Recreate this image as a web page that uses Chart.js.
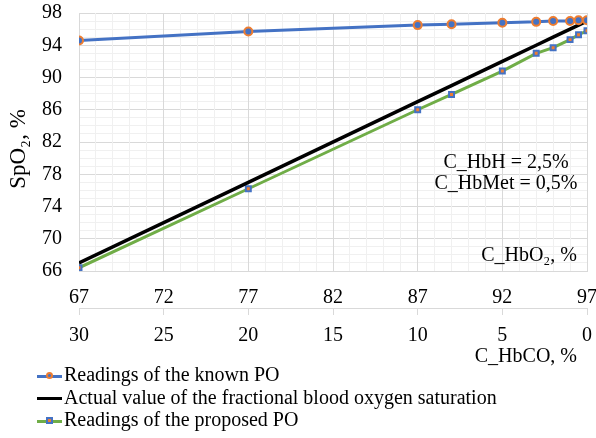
<!DOCTYPE html>
<html>
<head>
<meta charset="utf-8">
<script src="https://cdn.jsdelivr.net/npm/chart.js@4"></script>
<style>
  body { margin: 0; background: #fff; }
  #wrap { position: relative; width: 596px; height: 370px; }
  #legend { position: absolute; left: 37px; top: 363px; font: 20px "Liberation Serif", serif; color: #000; }
  #legend div { height: 22.5px; line-height: 22.5px; white-space: nowrap; }
  .sw { display: inline-block; position: relative; width: 25px; height: 3px; vertical-align: middle; margin-right: 2px; }
  .sw i { position: absolute; border-style: solid; box-sizing: content-box; }
</style>
</head>
<body>
<div id="wrap"><canvas id="chart"></canvas></div>
<div id="legend"></div>
<script>
// C_HbO2, % (top axis); C_HbCO = 97 - C_HbO2 (bottom axis)
const hbo2 = [67, 77, 87, 89, 92, 94, 95, 96, 96.5, 97];
const knownPO = [94.6, 95.7, 96.5, 96.6, 96.8, 96.9, 97.0, 97.0, 97.1, 97.1];
const actual = [67, 77, 87, 89, 92, 94, 95, 96, 96.5, 97];
const proposed = [66.4, 76.2, 86.0, 87.9, 90.8, 93.0, 93.7, 94.7, 95.3, 95.8];
const seriesNames = ['Readings of the known PO', 'Actual value of the fractional blood oxygen saturation', 'Readings of the proposed PO'];

const FONT = '"Liberation Serif", "Times New Roman", serif';
const toXY = vals => vals.map((v, i) => ({ x: hbo2[i], y: v }));

const major = '#d9d9d9', minor = '#f0f0f0';

// text labels inside the plot + axis titles
const notes = {
  id: 'notes',
  afterDraw(chart) {
    const { ctx, chartArea: a } = chart;
    ctx.save();
    ctx.fillStyle = '#000';
    ctx.font = '20px ' + FONT;
    ctx.textBaseline = 'middle';
    ctx.textAlign = 'center';
    ctx.fillText('C_HbH = 2,5%', a.right - 81, 163);
    ctx.fillText('C_HbMet = 0,5%', a.right - 81, 184);
    ctx.textAlign = 'right';
    ctx.fillText('C_HbO\u2082, %', a.right - 10, 256);
    ctx.fillText('C_HbCO, %', a.right - 10, 357);
    // y title
    ctx.translate(19, 149);
    ctx.rotate(-Math.PI / 2);
    ctx.textAlign = 'center';
    ctx.font = '23px ' + FONT;
    ctx.fillText('SpO\u2082, %', 0, 0);
    ctx.restore();
  }
};

const chart = new Chart(document.getElementById('chart'), {
  type: 'line',
  data: {
    datasets: [{
      label: seriesNames[0],
      data: toXY(knownPO),
      borderColor: '#4472C4',
      borderWidth: 3,
      pointRadius: 4,
      pointBorderWidth: 2,
      pointBackgroundColor: '#4472C4',
      pointBorderColor: '#ED7D31',
      tension: 0
    }, {
      label: seriesNames[1],
      data: toXY(actual),
      borderColor: '#000',
      borderWidth: 3.5,
      pointRadius: 0,
      tension: 0
    }, {
      label: seriesNames[2],
      data: toXY(proposed),
      borderColor: '#70AD47',
      borderWidth: 3,
      pointStyle: 'rect',
      pointRadius: 3.5,
      pointBorderWidth: 2,
      pointBackgroundColor: '#ED7D31',
      pointBorderColor: '#4472C4',
      tension: 0
    }]
  },
  options: {
    responsive: true,
    maintainAspectRatio: false,
    animation: false,
    layout: { padding: { left: 0, top: 13, right: 9, bottom: 0 } },
    plugins: { legend: { display: false }, tooltip: { enabled: false } },
    scales: {
      y: {
        min: 66, max: 98,
        afterFit: s => { s.width = 79; s.paddingTop = 0; s.paddingBottom = 0; },
        ticks: {
          stepSize: 1, autoSkip: false, padding: 17, color: '#000',
          font: { family: FONT, size: 20 },
          callback: v => ((v - 66) % 4 === 0 ? v : '')
        },
        grid: {
          drawTicks: false,
          color: c => ((c.tick.value - 66) % 4 === 0 ? major : minor)
        },
        border: { color: major }
      },
      x: {
        type: 'linear', position: 'bottom',
        min: 67, max: 97,
        afterFit: s => { s.height = 37; s.paddingLeft = 0; s.paddingRight = 0; },
        ticks: {
          stepSize: 1, autoSkip: false, maxRotation: 0, padding: 15, color: '#000',
          font: { family: FONT, size: 20 },
          callback: v => ((v - 67) % 5 === 0 ? v : '')
        },
        grid: {
          drawTicks: false,
          color: c => ((c.tick.value - 67) % 5 === 0 ? major : minor)
        },
        border: { color: major }
      },
      x2: {
        type: 'linear', position: 'bottom',
        min: 0, max: 30, reverse: true,
        afterFit: s => { s.height = 62; s.paddingLeft = 0; s.paddingRight = 0; },
        ticks: {
          stepSize: 5, maxRotation: 0, padding: 9, color: '#000',
          font: { family: FONT, size: 20 }
        },
        grid: { drawOnChartArea: false, drawTicks: true, tickLength: 7, color: major },
        border: { color: major }
      }
    }
  },
  plugins: [notes]
});

// legend, one series per row
const legend = document.getElementById('legend');
chart.data.datasets.forEach(ds => {
  const row = document.createElement('div');
  const sw = document.createElement('span');
  sw.className = 'sw';
  sw.style.background = ds.borderColor;
  if (ds.pointRadius > 0) {
    const m = document.createElement('i');
    m.style.background = ds.pointBackgroundColor;
    m.style.borderColor = ds.pointBorderColor;
    m.style.width = '3px'; m.style.height = '3px';
    m.style.left = '9px'; m.style.top = '-2.5px';
    m.style.borderWidth = '2px';
    if (ds.pointStyle !== 'rect') m.style.borderRadius = '50%';
    sw.appendChild(m);
  }
  row.appendChild(sw);
  row.appendChild(document.createTextNode(ds.label));
  legend.appendChild(row);
});
</script>
</body>
</html>
